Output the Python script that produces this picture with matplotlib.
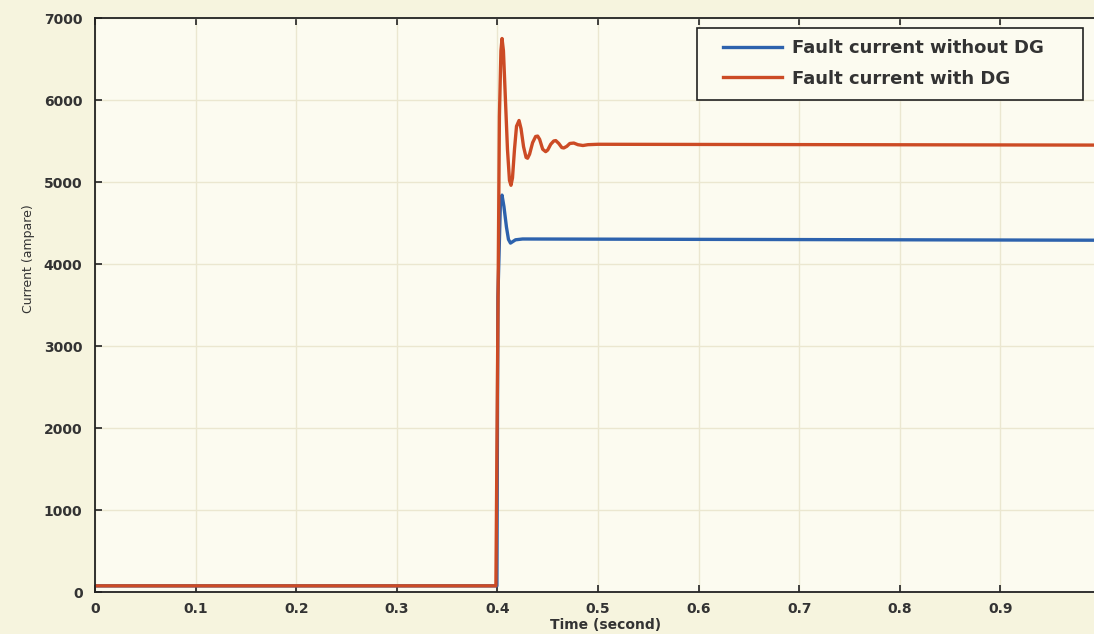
import matplotlib
matplotlib.use('Agg')
import matplotlib.pyplot as plt
from matplotlib.font_manager import FontProperties
from matplotlib.patches import Rectangle

T_WITHOUT = [0.0, 0.3995, 0.4005, 0.4030, 0.4046, 0.4065, 0.409, 0.411, 0.413,
             0.4155, 0.418, 0.425, 1.0]
I_WITHOUT = [75, 75, 3600, 4750, 4840, 4700, 4450, 4300, 4255,
             4275, 4295, 4305, 4290]

T_WITH = [0.0, 0.3985, 0.4000, 0.4020, 0.4035, 0.4046, 0.4060, 0.4080, 0.4100,
          0.4120, 0.4135, 0.4150, 0.4170, 0.4190, 0.4215, 0.4235, 0.4260,
          0.4285, 0.4300, 0.4320, 0.4350, 0.4380, 0.4400, 0.4420, 0.4450,
          0.4480, 0.4500, 0.4530, 0.4560, 0.4580, 0.4610, 0.4640, 0.4660,
          0.4690, 0.4720, 0.4760, 0.4800, 0.4850, 0.4900, 0.5000, 1.0]
I_WITH = [75, 75, 2500, 5800, 6600, 6750, 6600, 6000, 5400,
          5020, 4960, 5050, 5400, 5680, 5750, 5650, 5430,
          5300, 5290, 5340, 5480, 5555, 5560, 5520, 5400,
          5370, 5390, 5460, 5500, 5505, 5470, 5420, 5415,
          5435, 5470, 5475, 5455, 5445, 5455, 5460, 5450]

X_TICKS = [0, 0.1, 0.2, 0.3, 0.4, 0.5, 0.6, 0.7, 0.8, 0.9]
X_TICK_LABELS = ['0', '0.1', '0.2', '0.3', '0.4', '0.5', '0.6', '0.7', '0.8', '0.9']
Y_TICKS = [0, 1000, 2000, 3000, 4000, 5000, 6000, 7000]

BLUE = '#2d62ad'
RED = '#cc4b25'
FIG_BG = '#f6f4de'
AX_BG = '#fcfbf0'

fig = plt.figure(figsize=(10.94, 6.34), dpi=100, facecolor=FIG_BG)
ax = fig.add_axes([95 / 1094, 1 - 592 / 634, 1006 / 1094, 574 / 634])
ax.set_facecolor(AX_BG)

ax.plot(T_WITHOUT, I_WITHOUT, color=BLUE, lw=2.4, label='Fault current without DG')
ax.plot(T_WITH, I_WITH, color=RED, lw=2.4, label='Fault current with DG')

ax.set_xlim(0, 1.0)
ax.set_ylim(0, 7000)
ax.set_xticks(X_TICKS)
ax.set_xticklabels(X_TICK_LABELS)
ax.set_yticks(Y_TICKS)

tick_font = FontProperties(family='DejaVu Sans', weight='bold', size=10)
for lab in ax.get_xticklabels() + ax.get_yticklabels():
    lab.set_fontproperties(tick_font)

ax.tick_params(direction='in', length=5, width=1.2, top=True, right=True,
               colors='#222222', labelcolor='#333333')
ax.tick_params(axis='y', pad=9)
ax.tick_params(axis='x', pad=7)
ax.grid(True, color='#ebe7d0', lw=1.0)
for s in ax.spines.values():
    s.set_color('#222222')
    s.set_linewidth(1.3)

ax.set_xlabel('Time (second)', fontsize=10, fontweight='bold', color='#333333')
ax.xaxis.set_label_coords(0.508, -0.046)
ax.set_ylabel('Current (ampare)', fontsize=9, color='#333333',
              family='Liberation Sans Narrow')
ax.yaxis.set_label_coords(-0.06, 0.58)

# legend box drawn separately so the padding matches the original
ax.add_patch(Rectangle((0.598, 0.857), 0.384, 0.1256, transform=ax.transAxes,
                       facecolor=AX_BG, edgecolor='#222222', lw=1.2, zorder=4))
leg = ax.legend(loc='upper left', bbox_to_anchor=(0.624, 0.963),
                prop=FontProperties(family='DejaVu Sans', weight='bold', size=13),
                handlelength=3.3, handletextpad=0.55, frameon=False,
                borderpad=0, borderaxespad=0, labelspacing=0.68)
leg.set_zorder(5)
for t in leg.get_texts():
    t.set_color('#333333')

fig.savefig('out.png', dpi=100, facecolor=FIG_BG)
